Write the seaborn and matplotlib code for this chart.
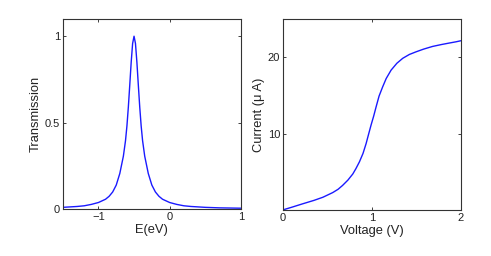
import matplotlib
matplotlib.use("Agg")
import matplotlib.pyplot as plt
import seaborn as sns
import pandas as pd

# Transmission vs energy
energy = [-1.5, -1.3, -1.2, -1.1, -1.0, -0.9, -0.85, -0.8, -0.75, -0.7, -0.65,
          -0.62, -0.6, -0.58, -0.56, -0.54, -0.52, -0.5, -0.48, -0.46, -0.44,
          -0.42, -0.4, -0.38, -0.35, -0.3, -0.25, -0.2, -0.15, -0.1, 0.0,
          0.1, 0.2, 0.3, 0.5, 0.7, 1.0]
transmission = [0.009, 0.014, 0.018, 0.026, 0.037, 0.056, 0.073, 0.098, 0.138,
                0.205, 0.305, 0.395, 0.480, 0.590, 0.718, 0.850, 0.958, 1.000,
                0.958, 0.850, 0.718, 0.590, 0.480, 0.395, 0.305, 0.205, 0.138,
                0.098, 0.073, 0.056, 0.037, 0.026, 0.018, 0.014, 0.009, 0.006,
                0.004]

# Current vs voltage
voltage = [0.0, 0.1, 0.22, 0.35, 0.45, 0.56, 0.62, 0.67, 0.73, 0.785, 0.82,
           0.86, 0.9, 0.935, 0.96, 0.99, 1.02, 1.047, 1.08, 1.12, 1.16, 1.215,
           1.28, 1.346, 1.42, 1.496, 1.58, 1.68, 1.78, 1.87, 1.94, 2.0]
current = [0.0, 0.35, 0.79, 1.25, 1.66, 2.27, 2.7, 3.2, 3.9, 4.7, 5.4,
           6.3, 7.4, 8.7, 9.8, 11.1, 12.3, 13.5, 14.9, 16.1, 17.2, 18.3,
           19.2, 19.85, 20.35, 20.7, 21.05, 21.4, 21.65, 21.85, 22.0, 22.15]

sns.set_theme(style="white")
plt.rcParams['font.family'] = ['Liberation Sans', 'DejaVu Sans']
plt.rcParams['font.size'] = 8

fig = plt.figure(figsize=(4.91, 2.56), dpi=100)
ax1 = fig.add_axes([0.128, 0.184, 0.3625, 0.742])
ax2 = fig.add_axes([0.576, 0.180, 0.363, 0.746])

df1 = pd.DataFrame({"E": energy, "T": transmission})
df2 = pd.DataFrame({"V": voltage, "I": current})

sns.lineplot(data=df1, x="E", y="T", ax=ax1, color="#1a1aff", linewidth=1.0)
sns.lineplot(data=df2, x="V", y="I", ax=ax2, color="#1a1aff", linewidth=1.0)

ax1.set_xlim(-1.5, 1)
ax1.set_ylim(0, 1.1)
ax1.set_xticks([-1, 0, 1])
ax1.set_xticklabels(["\u22121", "0", "1"])
ax1.set_yticks([0, 0.5, 1])
ax1.set_yticklabels(["0", "0.5", "1"])
ax1.set_xlabel("E(eV)", fontsize=9.3, labelpad=2)
ax1.set_ylabel("Transmission", fontsize=9.3, labelpad=2)

ax2.set_xlim(0, 2)
ax2.set_ylim(0, 25)
ax2.set_xticks([0, 1, 2])
ax2.set_yticks([10, 20])
ax2.set_xlabel("Voltage (V)", fontsize=9.3, labelpad=2)
ax2.set_ylabel("Current (\u03bc A)", fontsize=9.3, labelpad=2)

for ax in (ax1, ax2):
    for s in ax.spines.values():
        s.set_color("#333333")
        s.set_linewidth(0.8)
    ax.tick_params(direction="in", length=2.5, width=0.6, colors="#222222",
                   labelsize=8, pad=2, top=True, right=True, bottom=True, left=True)
    ax.xaxis.label.set_color("#222222")
    ax.yaxis.label.set_color("#222222")

fig.savefig("out.png", dpi=100)
